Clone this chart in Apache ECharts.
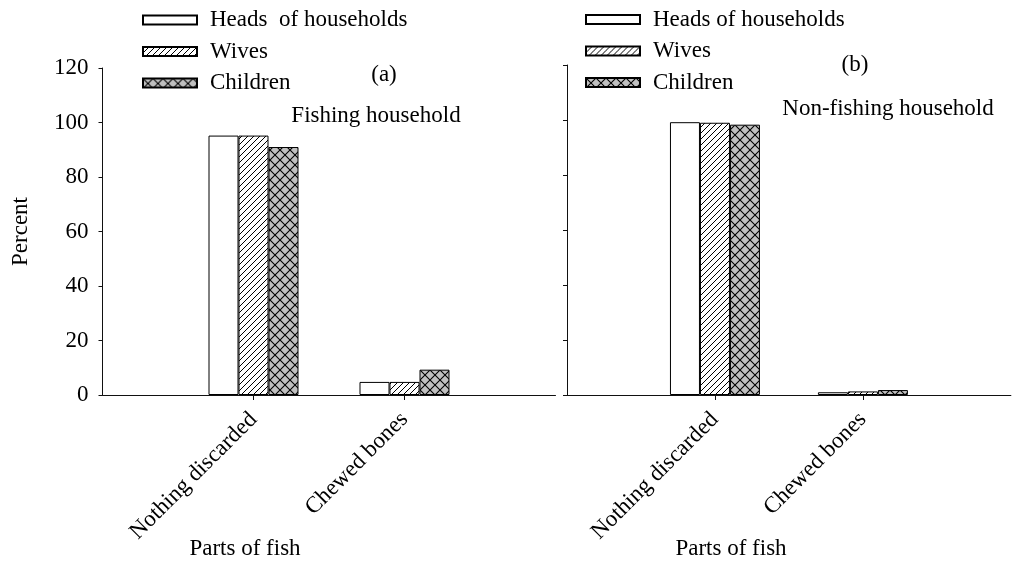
<!DOCTYPE html>
<html><head><meta charset="utf-8">
<script src="https://cdn.jsdelivr.net/npm/echarts@6/dist/echarts.min.js"></script>
<style>html,body{margin:0;padding:0;background:#fff}#c{width:1013px;height:565px}</style>
</head><body><div id="c"></div>
<script>
// ---- data ----
const categories = ['Nothing discarded', 'Chewed bones'];
const namesA = ['Heads  of households', 'Wives', 'Children'];
const namesB = ['Heads of households', 'Wives', 'Children'];
const fishingHeads = [95.2, 4.8];
const fishingWives = [95.2, 4.8];
const fishingChildren = [91.0, 9.3];
const nonFishingHeads = [99.2, 1.0];
const nonFishingWives = [99.0, 1.3];
const nonFishingChildren = [98.3, 1.8];
const yMin = 0, yMax = 120, yInterval = 20;
const xName = 'Parts of fish';
const yName = 'Percent';
const panelTags = ['(a)', '(b)'];
const panelTitles = ['Fishing household', 'Non-fishing household'];

// ---- styles ----
const FONT = '"Liberation Serif", "Times New Roman", serif';
const FS = 23;

function hatch() {
  const s = 6, c = document.createElement('canvas'); c.width = s; c.height = s;
  const g = c.getContext('2d');
  g.fillStyle = '#fff'; g.fillRect(0, 0, s, s);
  g.strokeStyle = '#000'; g.lineWidth = 1;
  g.beginPath();
  g.moveTo(-1, s + 1); g.lineTo(s + 1, -1);
  g.moveTo(-1, 1); g.lineTo(1, -1);
  g.moveTo(s - 1, s + 1); g.lineTo(s + 1, s - 1);
  g.stroke();
  return c;
}
function cross() {
  const s = 10, c = document.createElement('canvas'); c.width = s; c.height = s;
  const g = c.getContext('2d');
  g.fillStyle = '#c0c0c0'; g.fillRect(0, 0, s, s);
  g.strokeStyle = '#000'; g.lineWidth = 1.1;
  g.beginPath();
  g.moveTo(-1, -1); g.lineTo(s + 1, s + 1);
  g.moveTo(s + 1, -1); g.lineTo(-1, s + 1);
  g.stroke();
  return c;
}
const fills = ['#ffffff', { image: hatch(), repeat: 'repeat' }, { image: cross(), repeat: 'repeat' }];

const pad = a => ['-', ...a, '-'];
const cats = ['', ...categories, ''];

function xAxis(gi) {
  return {
    type: 'category', gridIndex: gi, data: cats, boundaryGap: false,
    axisLine: { show: true, lineStyle: { color: '#111', width: 1 } },
    axisTick: { show: true, length: 5, interval: (i, v) => v !== '', lineStyle: { color: '#111' } },
    axisLabel: { interval: 0, rotate: 45, margin: 21, color: '#000', fontFamily: FONT, fontSize: FS },
    splitLine: { show: false }
  };
}
function yAxis(gi, labels) {
  return {
    type: 'value', gridIndex: gi, min: yMin, max: yMax, interval: yInterval,
    name: labels ? yName : '', nameLocation: 'middle', nameGap: 70,
    nameTextStyle: { color: '#000', fontFamily: FONT, fontSize: FS },
    axisLine: { show: true, lineStyle: { color: '#111', width: 1 } },
    axisTick: { show: true, length: 4, lineStyle: { color: '#111' } },
    axisLabel: { show: labels, margin: 14, color: '#000', fontFamily: FONT, fontSize: FS },
    splitLine: { show: false }
  };
}
function bar(name, data, k, gi) {
  return {
    type: 'bar', name, data: pad(data), xAxisIndex: gi, yAxisIndex: gi,
    barWidth: 30, barGap: '0%',
    itemStyle: { color: fills[k], borderColor: '#000', borderWidth: 1 },
    emphasis: { disabled: true }
  };
}
function legend(names, left, top) {
  return {
    data: names, orient: 'vertical', left, top, icon: 'rect',
    itemWidth: 54, itemHeight: 9, itemGap: 8.5, selectedMode: false,
    textStyle: { color: '#000', fontFamily: FONT, fontSize: FS, lineHeight: 22, padding: [0, 0, 0, 8] }
  };
}
function txt(text, x, y) {
  return { type: 'text', x, y, style: { text, fill: '#000', font: FS + 'px ' + FONT, textAlign: 'center', textVerticalAlign: 'middle' } };
}

const chart = echarts.init(document.getElementById('c'), null, { renderer: 'canvas' });
chart.setOption({
  animation: false,
  backgroundColor: '#fff',
  grid: [
    { left: 102.5, top: 68, width: 453, height: 327 },
    { left: 567, top: 65, width: 456, height: 330 }
  ],
  xAxis: [xAxis(0), xAxis(1)],
  yAxis: [yAxis(0, true), yAxis(1, false)],
  legend: [legend(namesA, 137, 3.5), legend(namesB, 580, 3)],
  series: [
    bar(namesA[0], fishingHeads, 0, 0),
    bar(namesA[1], fishingWives, 1, 0),
    bar(namesA[2], fishingChildren, 2, 0),
    bar(namesB[0], nonFishingHeads, 0, 1),
    bar(namesB[1], nonFishingWives, 1, 1),
    bar(namesB[2], nonFishingChildren, 2, 1)
  ],
  graphic: [
    txt(panelTags[0], 384, 75),
    txt(panelTitles[0], 376, 116),
    txt(panelTags[1], 855, 65),
    txt(panelTitles[1], 888, 109),
    txt(xName, 245, 549),
    txt(xName, 731, 549)
  ]
});
</script>
</body></html>
